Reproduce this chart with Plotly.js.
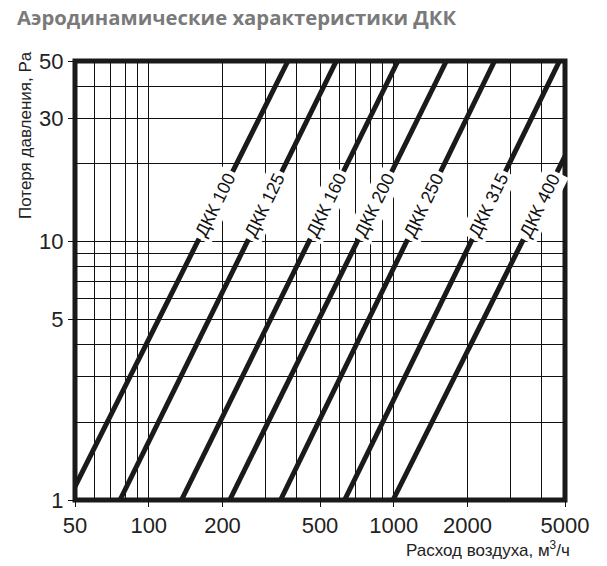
<!DOCTYPE html>
<html>
<head>
<meta charset="utf-8">
<script src="https://cdn.plot.ly/plotly-3.0.1.min.js"></script>
<style>
  html, body { margin: 0; padding: 0; background: #ffffff; }
  #chart { width: 607px; height: 566px; }
</style>
</head>
<body>
<div id="chart"></div>
<script>
// ---- Data ----
const seriesNames   = ['ДКК 100', 'ДКК 125', 'ДКК 160', 'ДКК 200', 'ДКК 250', 'ДКК 315', 'ДКК 400'];
const flowStart     = [50, 76.3, 136, 214, 345, 630, 993];      // m3/h
const pressureStart = [1.126, 1, 1, 1, 1, 1, 1];                // Pa
const flowEnd       = [370, 583, 1040, 1640, 2580, 4750, 5000]; // m3/h
const pressureEnd   = [50, 50, 50, 50, 50, 50, 21.4];           // Pa
const labelPressure = 13.8;                                     // Pa, where labels sit on lines

const xTickVals = [50, 100, 200, 500, 1000, 2000, 5000];
const xTickText = ['50', '100', '200', '500', '1000', '2000', '5000'];
const yTickVals = [1, 5, 10, 30, 50];
const yTickText = ['1', '5', '10', '30', '50'];
const xGridVals = [50, 60, 70, 80, 90, 100, 200, 300, 400, 500, 600, 700, 800, 900, 1000, 2000, 3000, 4000, 5000];
const yGridVals = [1, 2, 3, 4, 5, 6, 7, 8, 9, 10, 20, 30, 40, 50];

const chartTitle = 'Аэродинамические характеристики ДКК';
const xTitle = 'Расход воздуха, м<sup>3</sup>/ч';
const yTitle = 'Потеря давления, Pa';

// ---- Build chart ----
const W = 607, H = 566;
const margin = {l: 75, r: 42, t: 61, b: 66};
const plotW = W - margin.l - margin.r;
const plotH = H - margin.t - margin.b;
const xRange = [Math.log10(50), Math.log10(5000)];
const yRange = [0, Math.log10(50)];
const pxPerX = plotW / (xRange[1] - xRange[0]);
const pxPerY = plotH / (yRange[1] - yRange[0]);

const traces = seriesNames.map((name, i) => ({
  type: 'scatter',
  mode: 'lines',
  name: name,
  x: [flowStart[i], flowEnd[i]],
  y: [pressureStart[i], pressureEnd[i]],
  line: {color: '#1a1a1a', width: 5},
  hoverinfo: 'skip',
  showlegend: false
}));

const font = 'Liberation Sans, Arial, sans-serif';

const annotations = seriesNames.map((name, i) => {
  const lq0 = Math.log10(flowStart[i]), lq1 = Math.log10(flowEnd[i]);
  const lp0 = Math.log10(pressureStart[i]), lp1 = Math.log10(pressureEnd[i]);
  const lp = Math.log10(labelPressure);
  const f = (lp - lp0) / (lp1 - lp0);
  const lq = lq0 + f * (lq1 - lq0);
  const slopePx = ((lp1 - lp0) * pxPerY) / ((lq1 - lq0) * pxPerX);
  const ang = -Math.atan(slopePx) * 180 / Math.PI;
  return {
    x: lq, y: lp, xref: 'x', yref: 'y',
    text: name, showarrow: false,
    textangle: ang,
    font: {family: font, size: 18, color: '#111111'},
    bgcolor: '#ffffff',
    borderpad: 3
  };
});

annotations.push({
  text: yTitle, xref: 'paper', yref: 'paper',
  x: (25 - margin.l) / plotW, y: (H - margin.b - 135) / plotH,
  xanchor: 'center', yanchor: 'middle',
  textangle: -90, showarrow: false,
  font: {family: font, size: 17, color: '#222222'}
});
annotations.push({
  text: xTitle, xref: 'paper', yref: 'paper',
  x: (488 - margin.l) / plotW, y: -(549 - (H - margin.b)) / plotH,
  xanchor: 'center', yanchor: 'middle',
  showarrow: false,
  font: {family: font, size: 17, color: '#222222'}
});

const layout = {
  width: W, height: H,
  margin: margin,
  paper_bgcolor: '#ffffff',
  plot_bgcolor: '#ffffff',
  showlegend: false,
  title: {
    text: '<b>' + chartTitle + '</b>',
    xref: 'container', yref: 'container',
    x: 17 / W, xanchor: 'left',
    y: 1 - 18 / H, yanchor: 'middle',
    font: {family: 'Open Sans, sans-serif', size: 20.3, color: '#7a7a7a'}
  },
  xaxis: {
    type: 'log',
    range: xRange,
    tickvals: xTickVals, ticktext: xTickText,
    ticks: 'outside', ticklen: 6, tickwidth: 1, tickcolor: '#111111',
    tickfont: {family: font, size: 22, color: '#222222'},
    showgrid: true, gridcolor: '#111111', gridwidth: 1,
    minor: {tickvals: xGridVals, showgrid: true, gridcolor: '#111111', gridwidth: 1, ticks: ''},
    showline: false, zeroline: false, fixedrange: true
  },
  yaxis: {
    type: 'log',
    range: yRange,
    tickvals: yTickVals, ticktext: yTickText,
    ticks: 'outside', ticklen: 6, tickwidth: 1, tickcolor: '#111111',
    tickfont: {family: font, size: 22, color: '#222222'},
    showgrid: true, gridcolor: '#111111', gridwidth: 1,
    minor: {tickvals: yGridVals, showgrid: true, gridcolor: '#111111', gridwidth: 1, ticks: ''},
    showline: false, zeroline: false, fixedrange: true
  },
  shapes: [{
    type: 'rect', xref: 'paper', yref: 'paper',
    x0: 0, x1: 1, y0: 0, y1: 1,
    line: {color: '#1a1a1a', width: 5},
    fillcolor: 'rgba(0,0,0,0)',
    layer: 'below'
  }],
  annotations: annotations
};

Plotly.newPlot('chart', traces, layout, {staticPlot: true, displayModeBar: false});
</script>
</body>
</html>
